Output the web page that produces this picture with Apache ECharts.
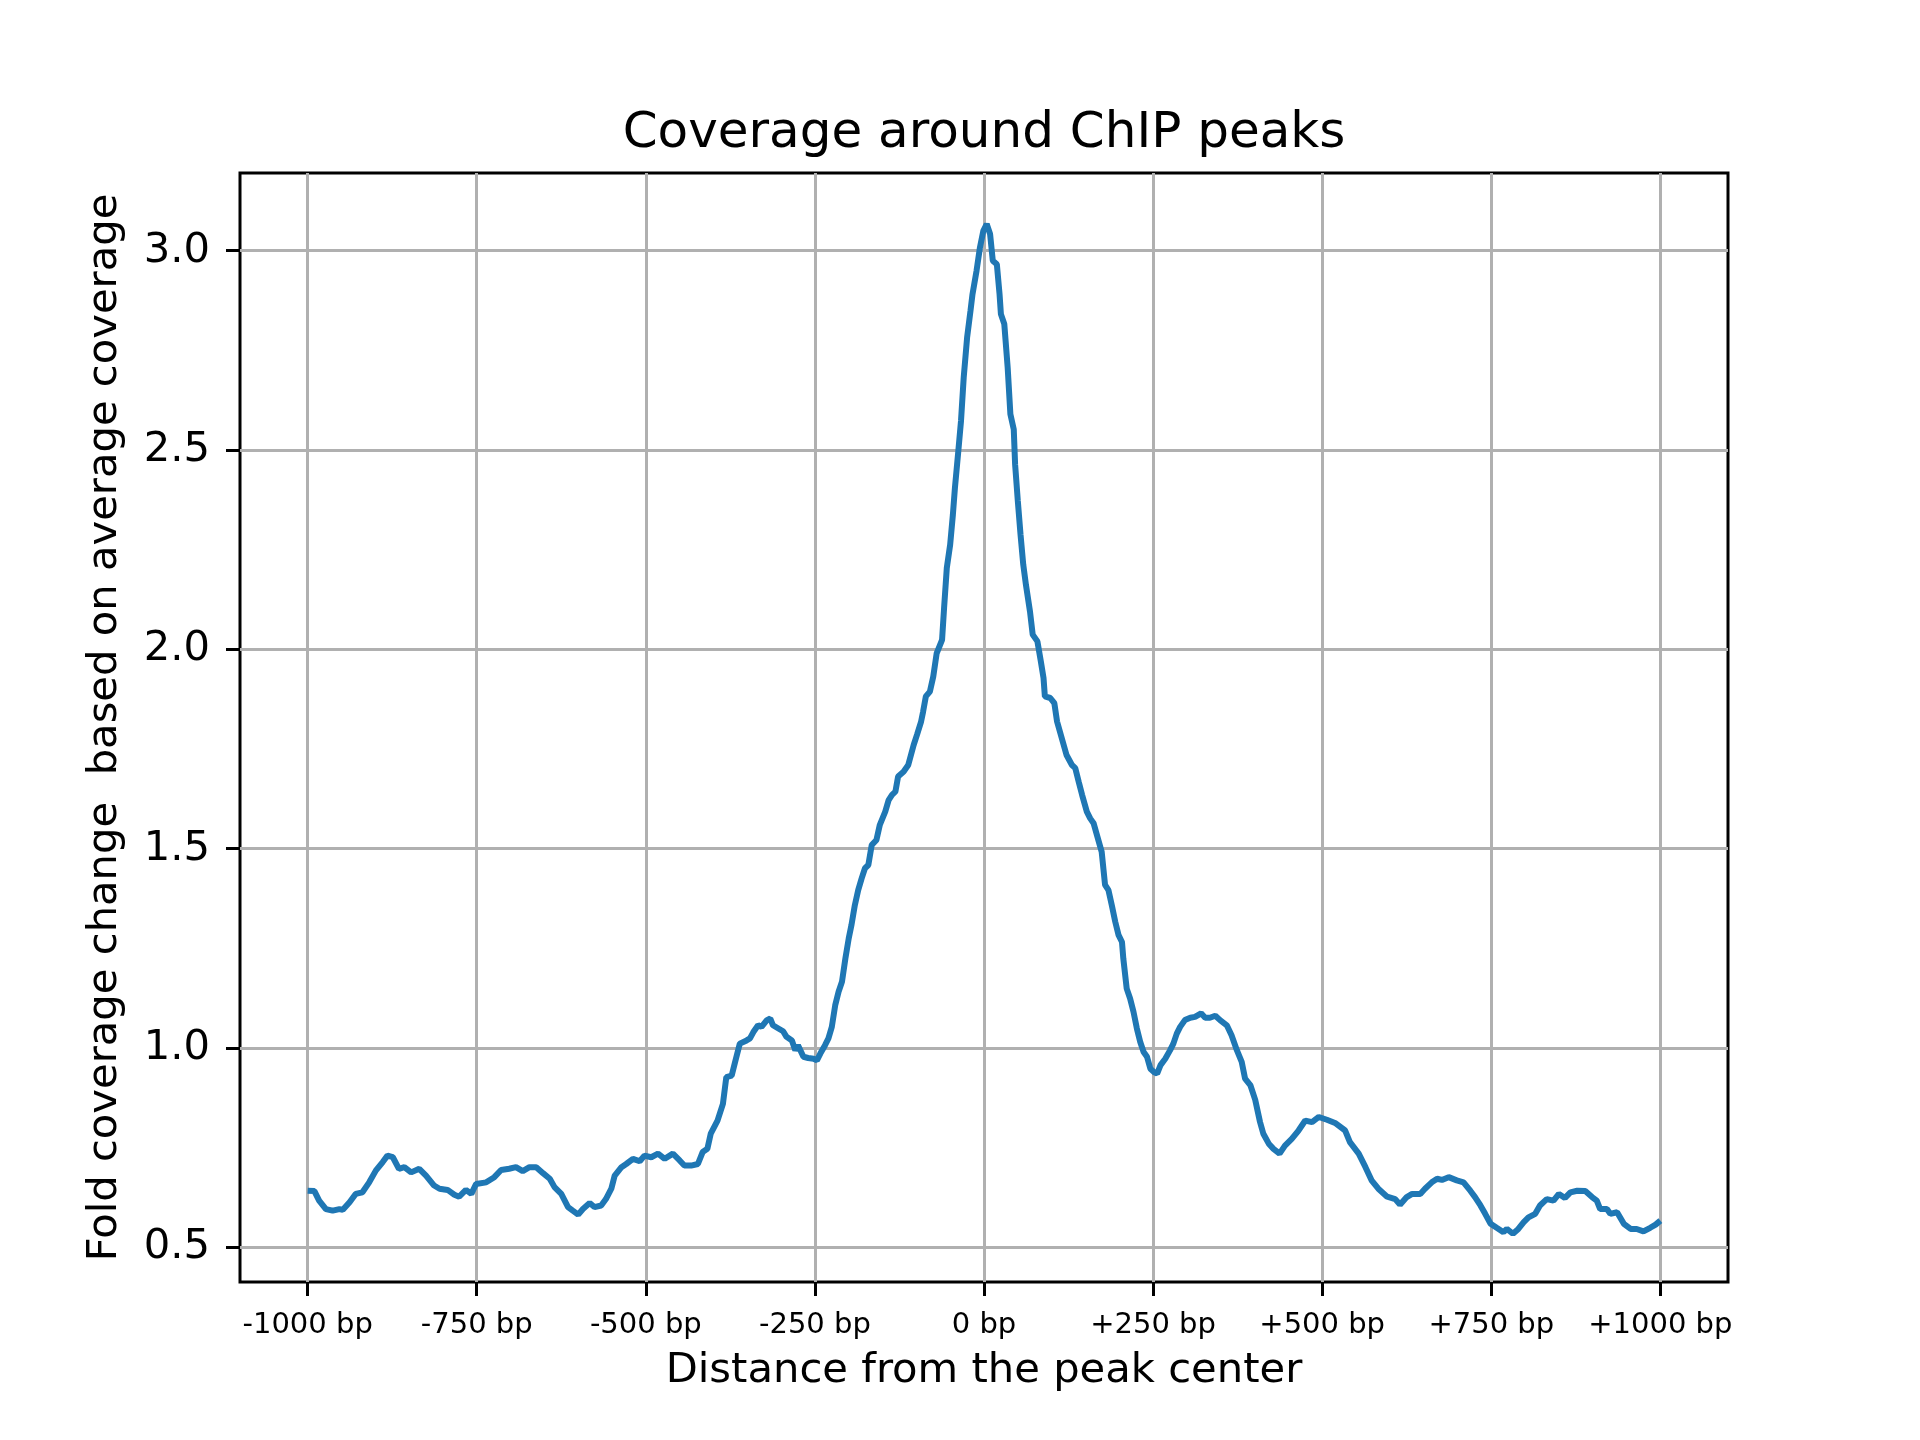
<!doctype html>
<html>
<head>
<meta charset="utf-8">
<title>Coverage around ChIP peaks</title>
<script src="https://cdn.jsdelivr.net/npm/echarts@6/dist/echarts.min.js"></script>
<style>
html,body{margin:0;padding:0;background:#fff;}
</style>
</head>
<body>
<div id="chart" style="width:1920px;height:1440px;"></div>
<script type="text/javascript">
// distance from peak center (bp) and fold coverage
var positions = [
 -1000,-990,-983,-973,-963,-953,-948,-938,-929,-919,-909,-899,-889,-882,-874,-865,-857,-847,-835,-825,
 -813,-805,-793,-783,-776,-766,-758,-751,-736,-724,-714,-702,-692,-682,-672,-662,-652,-642,-635,-625,
 -615,-608,-600,-593,-583,-576,-566,-559,-551,-546,-536,-529,-519,-509,-502,-492,-482,-472,-460,-450,
 -443,-433,-423,-416,-409,-404,-394,-386,-381,-373,-368,-361,-351,-346,-341,-334,-329,-321,-316,-312,
 -304,-297,-292,-284,-279,-275,-267,-260,-252,-247,-242,-235,-230,-225,-220,-215,-210,-205,-200,-196,
 -191,-186,-181,-176,-171,-166,-159,-154,-146,-141,-136,-131,-127,-119,-112,-104,-99,-93,-90,-86,
 -80,-75,-70,-62,-59,-55,-50,-46,-43,-38,-34,-30,-25,-20,-17,-11,-6,-1,4,9,
 13,19,23,25,30,35,39,44,46,50,54,58,62,68,72,79,84,88,90,98,
 104,108,115,122,130,135,140,145,152,157,162,167,174,179,184,189,194,199,204,206,
 211,216,221,226,231,236,241,246,251,256,261,268,275,280,285,290,297,305,312,321,
 327,334,342,349,359,366,374,381,386,394,401,408,413,421,428,437,445,455,465,475,
 485,495,507,519,534,541,554,564,573,583,596,608,615,625,633,645,652,662,670,677,
 687,699,709,719,726,734,741,749,758,768,773,782,790,798,805,815,822,832,842,850,
 859,867,877,889,899,906,911,921,926,936,946,956,965,975,985,993,1000
];
var coverage = [
 0.642,0.641,0.617,0.596,0.592,0.596,0.594,0.613,0.634,0.638,0.663,0.693,0.714,0.730,0.726,0.697,0.701,0.688,0.697,0.680,
 0.655,0.647,0.644,0.632,0.627,0.644,0.634,0.659,0.663,0.676,0.694,0.697,0.701,0.691,0.701,0.701,0.686,0.672,0.651,0.634,
 0.601,0.592,0.582,0.596,0.611,0.601,0.605,0.621,0.647,0.680,0.701,0.709,0.722,0.716,0.730,0.726,0.735,0.722,0.735,0.718,
 0.705,0.705,0.709,0.739,0.747,0.785,0.818,0.860,0.927,0.931,0.965,1.011,1.019,1.024,1.040,1.057,1.053,1.070,1.074,1.057,
 1.049,1.042,1.028,1.019,0.994,1.007,0.978,0.975,0.973,0.969,0.986,1.007,1.024,1.053,1.107,1.141,1.166,1.224,1.275,1.308,
 1.358,1.396,1.425,1.451,1.459,1.509,1.522,1.560,1.593,1.622,1.635,1.643,1.681,1.693,1.710,1.760,1.786,1.819,1.844,1.882,
 1.894,1.932,1.990,2.024,2.104,2.204,2.263,2.338,2.405,2.497,2.573,2.682,2.782,2.849,2.891,2.950,3.008,3.050,3.067,3.042,
 2.975,2.966,2.891,2.841,2.816,2.707,2.590,2.552,2.464,2.372,2.288,2.213,2.162,2.095,2.037,2.020,1.970,1.928,1.882,1.878,
 1.865,1.819,1.777,1.735,1.710,1.702,1.668,1.635,1.593,1.576,1.564,1.534,1.492,1.409,1.396,1.358,1.317,1.283,1.266,1.224,
 1.149,1.124,1.091,1.049,1.015,0.990,0.978,0.948,0.940,0.936,0.957,0.973,0.994,1.011,1.036,1.053,1.070,1.076,1.078,1.087,
 1.076,1.076,1.081,1.070,1.057,1.032,0.994,0.965,0.923,0.906,0.870,0.815,0.785,0.760,0.747,0.735,0.755,0.772,0.793,0.818,
 0.814,0.827,0.820,0.812,0.793,0.764,0.735,0.701,0.668,0.647,0.627,0.621,0.607,0.626,0.634,0.634,0.647,0.663,0.672,0.669,
 0.676,0.668,0.663,0.642,0.626,0.605,0.584,0.559,0.549,0.538,0.546,0.534,0.546,0.563,0.575,0.584,0.605,0.621,0.617,0.634,
 0.624,0.638,0.642,0.641,0.626,0.617,0.596,0.596,0.584,0.588,0.559,0.546,0.546,0.540,0.549,0.557,0.567
];
var xTicks = [-1000,-750,-500,-250,0,250,500,750,1000];
var xTickLabels = ['-1000 bp','-750 bp','-500 bp','-250 bp','0 bp','+250 bp','+500 bp','+750 bp','+1000 bp'];
var yTicks = [0.5,1.0,1.5,2.0,2.5,3.0];

var data = [];
for (var i = 0; i < positions.length; i++) {
	data.push([positions[i], coverage[i]]);
}

var font = 'DejaVu Sans';
var chart = echarts.init(document.getElementById('chart'));
chart.setOption({
	animation: false,
	backgroundColor: '#fff',
	title: {
		text: 'Coverage around ChIP peaks',
		left: 979,
		textAlign: 'center',
		top: 104,
		textStyle: {
			fontFamily: font,
			fontWeight: 'normal',
			fontSize: 50,
			color: '#000'
		}
	},
	grid: {
		left: 240,
		right: 192,
		top: 173,
		bottom: 158,
		show: true,
		borderColor: '#000',
		borderWidth: 3,
		containLabel: false
	},
	xAxis: {
		type: 'value',
		min: -1100,
		max: 1100,
		name: 'Distance from the peak center',
		nameLocation: 'middle',
		nameGap: 68,
		nameTextStyle: {fontFamily: font, fontSize: 41.7, color: '#000'},
		axisLine: {show: false, onZero: false},
		axisTick: {show: true, length: 14, lineStyle: {color: '#000', width: 3}, customValues: xTicks},
		axisLabel: {
			customValues: xTicks,
			margin: 29,
			fontFamily: font,
			fontSize: 29,
			color: '#000',
			formatter: function (v) {
				var k = xTicks.indexOf(v);
				return k >= 0 ? xTickLabels[k] : '';
			}
		},
		splitLine: {show: true, lineStyle: {color: '#b0b0b0', width: 3}}
	},
	yAxis: {
		type: 'value',
		min: 0.413,
		max: 3.195,
		name: 'Fold coverage change  based on average coverage',
		nameLocation: 'middle',
		nameGap: 114,
		nameTextStyle: {fontFamily: font, fontSize: 41.7, color: '#000'},
		axisLine: {show: false, onZero: false},
		axisTick: {show: true, length: 14, lineStyle: {color: '#000', width: 3}, customValues: yTicks},
		axisLabel: {
			customValues: yTicks,
			margin: 30,
			fontFamily: font,
			fontSize: 41.7,
			color: '#000',
			formatter: function (v) { return v.toFixed(1); }
		},
		splitLine: {show: true, lineStyle: {color: '#b0b0b0', width: 3}}
	},
	series: [{
		type: 'line',
		data: data,
		showSymbol: false,
		symbol: 'none',
		lineStyle: {color: '#1f77b4', width: 6},
		itemStyle: {color: '#1f77b4'}
	}]
});
</script>
</body>
</html>
